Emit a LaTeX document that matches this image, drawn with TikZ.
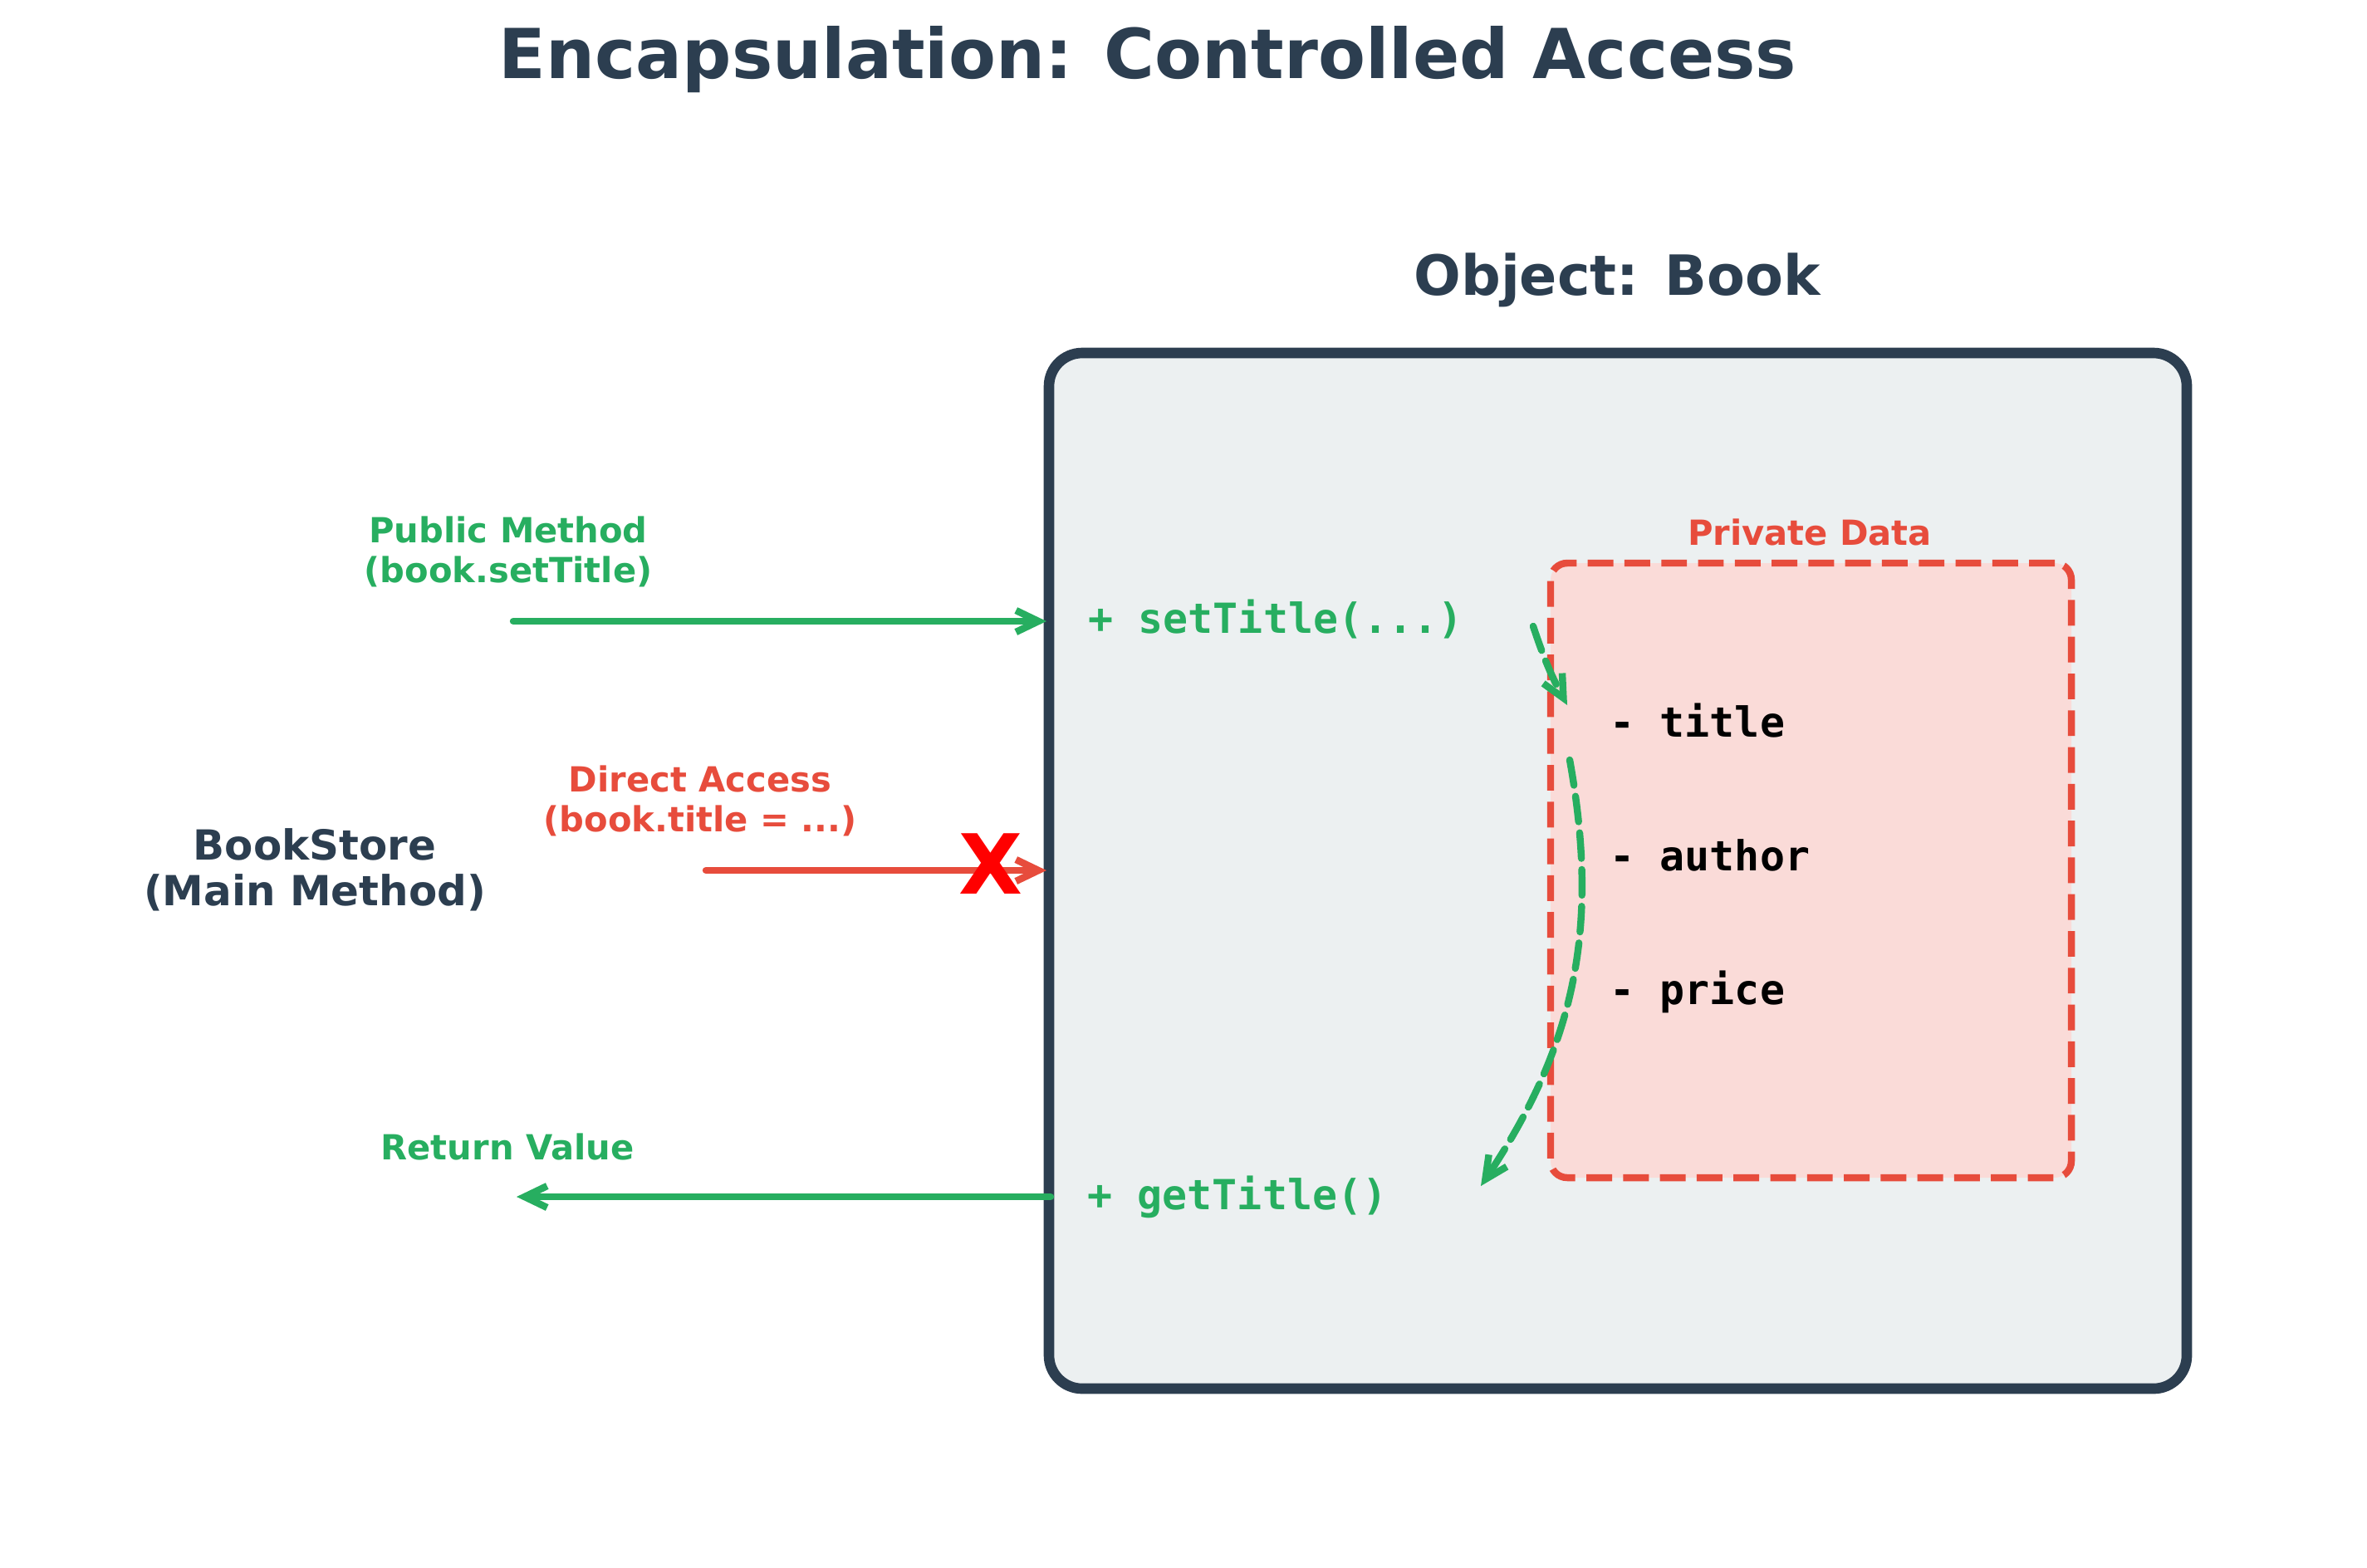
\documentclass[tikz,border=0pt]{standalone}
\usepackage{fontspec}
\setmainfont{DejaVu Sans}
\setmonofont{DejaVu Sans Mono}
\usetikzlibrary{arrows.meta,positioning}
\definecolor{Slate}{HTML}{2C3E50}
\definecolor{SlateSoft}{HTML}{ECF0F1}
\definecolor{Leaf}{HTML}{27AE60}
\definecolor{Alert}{HTML}{E74C3C}
\definecolor{AlertSoft}{HTML}{FADBD8}
\definecolor{Stop}{HTML}{FF0000}

\begin{document}
\begin{tikzpicture}[
    objbox/.style={draw=Slate,fill=SlateSoft,line width=3.6pt,rounded corners=4mm,minimum width=13.7cm,minimum height=12.47cm},
    privbox/.style={draw=Alert,fill=AlertSoft,line width=2.4pt,dash pattern=on 8.8pt off 3.8pt,rounded corners=2mm,minimum width=6.27cm,minimum height=7.4cm},
    note/.style={font=\bfseries\fontsize{11.85}{13.4}\selectfont,align=center,anchor=base,inner sep=0pt},
    method/.style={font=\ttfamily\bfseries\fontsize{14.2}{16}\selectfont,text=Leaf,anchor=base west,inner sep=0pt},
    field/.style={font=\ttfamily\bfseries\fontsize{14.2}{16}\selectfont,anchor=base west,inner sep=0pt},
    arrow/.style={-{Straight Barb[length=2.7mm,width=2.6mm]},line width=2.4pt,line cap=round},
    flow/.style={arrow,color=Leaf,dash pattern=on 8.8pt off 3.8pt}
  ]
    \useasboundingbox (0,0) rectangle (28.5,-18.87);
    \node[font=\bfseries\fontsize{23.6}{28}\selectfont,text=Slate,anchor=base] (title) at (13.82,-0.94) {Encapsulation: Controlled Access};

    % the object and its private part
    \node[objbox] (book) at (19.48,-10.485) {};
    \node[font=\bfseries\fontsize{19}{22}\selectfont,text=Slate,anchor=base] (booklbl) at (19.47,-3.55) {Object: Book};
    \node[privbox] (priv) at (21.805,-10.48) {};
    \node[note,text=Alert] (privlbl) at (21.79,-6.56) {Private Data};
    \node[field] (ftitle) at (19.38,-8.87) {- title};
    \node[field] (fauthor) at (19.38,-10.48) {- author};
    \node[field] (fprice) at (19.38,-12.09) {- price};
    \node[method] (setter) at (13.10,-7.62) {+ setTitle(...)};
    \node[method] (getter) at (13.09,-14.56) {+ getTitle()};

    % caller
    \node[font=\bfseries\fontsize{14.2}{15.6}\selectfont,text=Slate,align=center,anchor=base] (store) at (3.79,-10.90) {BookStore\\(Main Method)};
    \node[note,text=Leaf] (publbl) at (6.12,-7.01) {Public Method\\(book.setTitle)};
    \node[note,text=Alert] (directlbl) at (8.43,-10.01) {Direct Access\\(book.title = ...)};
    \node[note,text=Leaf] (returnlbl) at (6.11,-13.96) {Return Value};

    \coordinate (pubsrc) at (6.18,-7.48);
    \coordinate (pubdst) at (12.60,-7.48);
    \coordinate (directsrc) at (8.50,-10.48);
    \coordinate (directdst) at (12.60,-10.48);
    \coordinate (returnsrc) at (12.65,-14.41);
    \coordinate (returndst) at (6.22,-14.41);
    \coordinate (setout) at (18.46,-7.54);
    \coordinate (titlein) at (18.87,-8.49);
    \coordinate (titleout) at (18.90,-9.15);
    \coordinate (getin) at (17.83,-14.28);

    \draw[arrow,color=Leaf] (pubsrc) -- (pubdst);
    \draw[arrow,color=Alert] (directsrc) -- (directdst);
    \node[font=\bfseries\fontsize{28.4}{32}\selectfont,text=Stop,anchor=base,inner sep=0pt] (cross) at (11.93,-10.76) {X};
    \draw[arrow,color=Leaf] (returnsrc) -- (returndst);
    \draw[flow] (setout) to[bend right=5] (titlein);
    \draw[flow] (titleout) to[bend left=22] (getin);
  \end{tikzpicture}
\end{document}
